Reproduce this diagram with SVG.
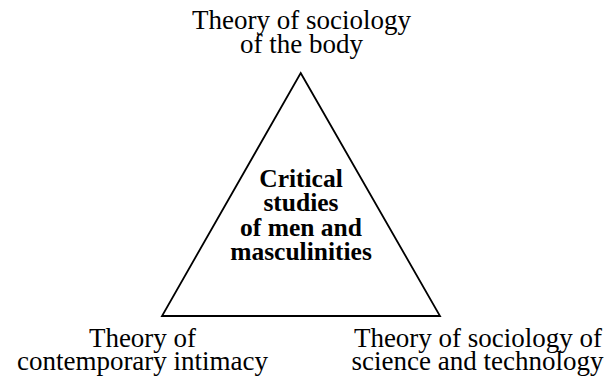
<svg xmlns="http://www.w3.org/2000/svg" width="605" height="379" viewBox="0 0 605 379">
<style>
.lbl{font-family:"Liberation Serif","Times New Roman",serif;font-size:27px;fill:#000;text-anchor:middle}
.ctr{font-family:"Liberation Serif","Times New Roman",serif;font-size:25.5px;font-weight:bold;fill:#000;text-anchor:middle}
.edge{fill:none;stroke:#000;stroke-width:1.8;stroke-linejoin:miter}
</style>
<rect width="605" height="379" fill="#fff"/>
<g id="connectors">
<path class="edge" d="M300.7,73 L440,316 L162,316 Z"/>
</g>
<g id="node-body">
<text class="lbl" x="301.5" y="29">Theory of sociology</text>
<text class="lbl" x="301.5" y="52.5">of the body</text>
</g>
<g id="node-intimacy">
<text class="lbl" x="142.5" y="346.7">Theory of</text>
<text class="lbl" x="142.5" y="370">contemporary intimacy</text>
</g>
<g id="node-science">
<text class="lbl" x="478" y="346.7">Theory of sociology of</text>
<text class="lbl" x="477.5" y="370">science and technology</text>
</g>
<g id="node-center">
<text class="ctr" x="301" y="186.7">Critical</text>
<text class="ctr" x="301" y="211">studies</text>
<text class="ctr" x="301" y="235.5">of men and</text>
<text class="ctr" x="301" y="260">masculinities</text>
</g>
</svg>
